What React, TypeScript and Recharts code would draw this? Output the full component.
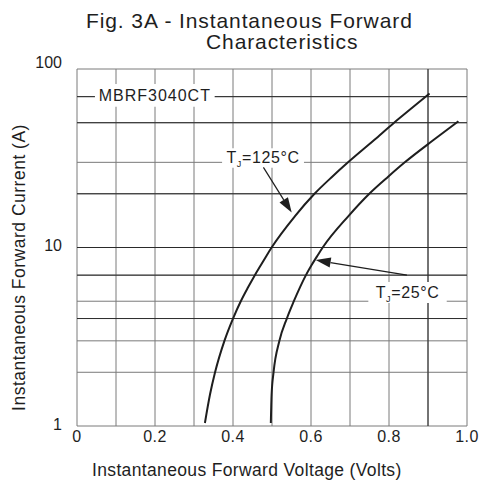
import React from 'react';
import { LineChart, Line, XAxis, YAxis, CartesianGrid, ReferenceArea, ReferenceLine } from 'recharts';

// Tj = 125°C curve (V, A)
const v125 = [0.328, 0.341, 0.354, 0.378, 0.4, 0.42, 0.439, 0.456, 0.472, 0.486, 0.499, 0.559, 0.609, 0.655, 0.695, 0.762, 0.813, 0.857, 0.904];
const i125 = [1.04, 1.5, 2, 3, 4, 5, 6, 7, 8, 9, 10, 15, 20, 25, 30, 40, 50, 60, 73];
// Tj = 25°C curve (V, A)
const v25 = [0.497, 0.499, 0.504, 0.519, 0.538, 0.556, 0.572, 0.587, 0.602, 0.6165, 0.63, 0.696, 0.7495, 0.7985, 0.8405, 0.914, 0.978];
const i25 = [1.04, 1.5, 2, 3, 4, 5, 6, 7, 8, 9, 10, 15, 20, 25, 30, 40, 51];

const xTicks = [0, 0.2, 0.4, 0.6, 0.8, 1.0];
const yTicks = [1, 10, 100];
const gridX = [0, 0.1, 0.2, 0.3, 0.4, 0.5, 0.6, 0.7, 0.8, 0.9, 1.0];
const gridY = [1, 2, 3, 4, 5, 6, 7, 8, 9, 10, 20, 30, 40, 50, 60, 70, 80, 90, 100];
const darkGridY = [4, 7, 10, 20, 50, 70];
const darkGridX = [0.9];

const series125 = v125.map((v, k) => ({ v, i: i125[k] }));
const series25 = v25.map((v, k) => ({ v, i: i25[k] }));

const FONT = '"Liberation Sans", Arial, Helvetica, sans-serif';
const INK = '#1e1e1e';

const Arrow = (p: any) => {
  const { x1, y1, x2, y2 } = p;
  if ([x1, y1, x2, y2].some((n) => typeof n !== 'number' || isNaN(n))) return <g />;
  const ang = Math.atan2(y2 - y1, x2 - x1);
  const L = 15;
  const W = 5;
  const bx = x2 - L * Math.cos(ang);
  const by = y2 - L * Math.sin(ang);
  const px = -Math.sin(ang) * W;
  const py = Math.cos(ang) * W;
  return (
    <g>
      <line x1={x1} y1={y1} x2={bx} y2={by} stroke={INK} strokeWidth={1.2} />
      <polygon points={`${x2},${y2} ${bx + px},${by + py} ${bx - px},${by - py}`} fill={INK} />
    </g>
  );
};

const boxLabel = (kind: string) => (props: any) => {
  const vb = props.viewBox || {};
  const cx = vb.x + vb.width / 2;
  const cy = vb.y + vb.height / 2;
  if (kind === 'mbrf') {
    return (
      <text x={cx} y={cy + 6} textAnchor="middle" fontSize={16} letterSpacing={1} fontFamily={FONT} fill={INK}>
        MBRF3040CT
      </text>
    );
  }
  const temp = kind === 't125' ? '=125°C' : '=25°C';
  return (
    <text x={cx} y={cy + 5.5} textAnchor="middle" fontSize={16} letterSpacing={0.6} fontFamily={FONT} fill={INK}>
      T<tspan fontSize={9} dy={4}>J</tspan>
      <tspan dy={-4}>{temp}</tspan>
    </text>
  );
};

const YTick = (p: any) => (
  <text x={p.x} y={p.y} dy={p.payload.value === 100 ? -1 : p.payload.value === 1 ? 4 : 3} textAnchor="end" fontSize={16} fontFamily={FONT} fill={INK}>
    {String(p.payload.value)}
  </text>
);

const XTick = (p: any) => (
  <text x={p.x} y={p.y} dy={12} textAnchor="middle" fontSize={16} letterSpacing={0.5} fontFamily={FONT} fill={INK}>
    {p.payload.value === 0 ? '0' : Number(p.payload.value).toFixed(1)}
  </text>
);

export default function App() {
  return (
    <div style={{ position: 'absolute', left: 0, top: 0, width: 481, height: 481, background: '#fff' }}>
      <LineChart width={481} height={481} margin={{ top: 69, right: 14, bottom: 35, left: 37 }}>
        <CartesianGrid stroke="#7a7a7a" strokeWidth={1} horizontalValues={gridY} verticalValues={gridX} />
        <CartesianGrid stroke="#2a2a2a" strokeWidth={1} horizontalValues={darkGridY} verticalValues={darkGridX} />
        <XAxis
          dataKey="v"
          type="number"
          domain={[0, 1]}
          ticks={xTicks}
          axisLine={false}
          tickLine={false}
          tickSize={0}
          tickMargin={4}
          height={20}
          tick={<XTick />}
          allowDataOverflow
        />
        <YAxis
          dataKey="i"
          type="number"
          scale="log"
          domain={[1, 100]}
          ticks={yTicks}
          axisLine={false}
          tickLine={false}
          tickSize={0}
          tickMargin={15}
          width={40}
          tick={<YTick />}
          allowDataOverflow
        />
        <Line data={series125} dataKey="i" type="monotone" stroke={INK} strokeWidth={2} dot={false} isAnimationActive={false} />
        <Line data={series25} dataKey="i" type="monotone" stroke={INK} strokeWidth={2} dot={false} isAnimationActive={false} />
        <ReferenceArea x1={0.046} x2={0.353} y1={61.5} y2={82.5} fill="#fff" fillOpacity={1} stroke="none" label={boxLabel('mbrf')} />
        <ReferenceArea x1={0.372} x2={0.582} y1={28} y2={36} fill="#fff" fillOpacity={1} stroke="none" label={boxLabel('t125')} />
        <ReferenceArea x1={0.747} x2={0.948} y1={4.88} y2={6.4} fill="#fff" fillOpacity={1} stroke="none" label={boxLabel('t25')} />
        <ReferenceLine segment={[{ x: 0.478, y: 28.1 }, { x: 0.5505, y: 15.7 }]} stroke={INK} shape={Arrow} />
        <ReferenceLine segment={[{ x: 0.846, y: 7.0 }, { x: 0.612, y: 8.5 }]} stroke={INK} shape={Arrow} />
      </LineChart>
      <svg width={481} height={481} style={{ position: 'absolute', left: 0, top: 0, pointerEvents: 'none' }}>
        <text x={86} y={27.7} fontSize={21} letterSpacing={0.9} fontFamily={FONT} fill={INK}>
          Fig. 3A - Instantaneous Forward
        </text>
        <text x={206} y={48.7} fontSize={21} letterSpacing={0.9} fontFamily={FONT} fill={INK}>
          Characteristics
        </text>
        <text x={92} y={476} fontSize={17.5} letterSpacing={0.35} fontFamily={FONT} fill={INK}>
          Instantaneous Forward Voltage (Volts)
        </text>
        <text
          x={0}
          y={0}
          transform="translate(25,267.5) rotate(-90)"
          textAnchor="middle"
          fontSize={17.5}
          letterSpacing={0.5}
          fontFamily={FONT}
          fill={INK}
        >
          Instantaneous Forward Current (A)
        </text>
      </svg>
    </div>
  );
}
